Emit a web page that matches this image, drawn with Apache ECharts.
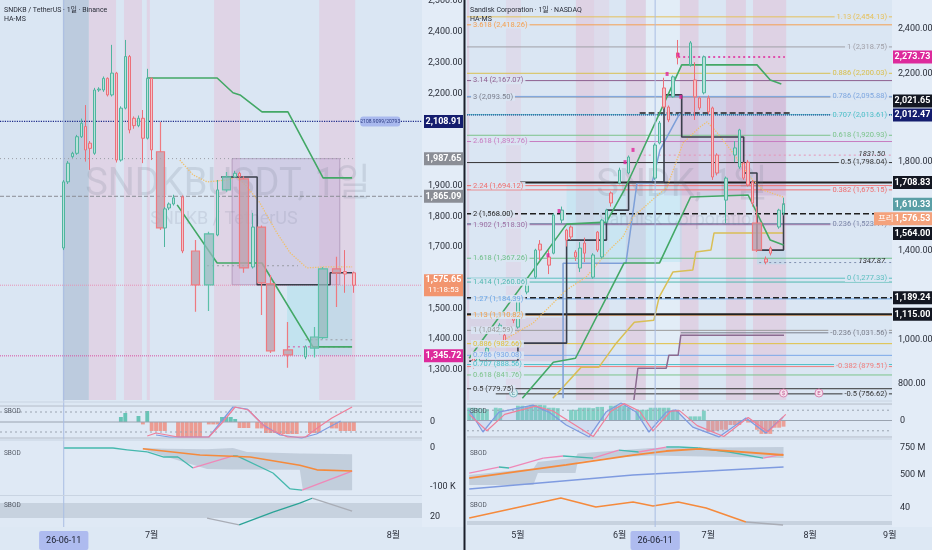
<!DOCTYPE html>
<html><head><meta charset="utf-8">
<script src="https://cdn.jsdelivr.net/npm/echarts@6.0.0/dist/echarts.min.js"></script>
<style>html,body{margin:0;padding:0;background:#dde8f4;overflow:hidden}#c{width:932px;height:550px}</style>
</head><body><div id="c"></div>
<script>
// ================= DATA =================
const N = 96;
const slotNames = Array.from({length: N}, (_, i) => String(i));

// ---- Left chart: SNDKB / TetherUS ----
const leftTitle = 'SNDKB / TetherUS · 1일 · Binance';
const leftTickSlots = [14, 34, 89];
const leftTickText = ['26-06-11', '7월', '8월'];
const leftCrossSlot = 14;
const leftCandleSlots = [14,15,16,17,18,19,20,21,22,23,24,25,26,27,28,29,30,31,32,33,34,37,38,39,41,49,53,54,57,69,78,80];
const leftCandleOHLC = [
 [1697,1912,1690,1918],[1912,1973,1905,1980],[1994,2005,1990,2010],[2005,2059,2000,2065],[2059,2103,2055,2118],
 [2092,2016,1978,2162],[2038,2021,1951,2045],[2005,2211,2000,2218],[2211,2214,2205,2220],[2211,2249,2205,2255],
 [2249,2195,2190,2252],[2195,2266,2190,2358],[2266,1983,1975,2270],[1983,2152,1978,2158],[2152,2320,2148,2374],
 [2320,2081,2070,2325],[2119,2095,2085,2125],[2095,2119,2090,2128],[2119,2054,1973,2146],[2054,2249,2050,2280],
 [2249,2016,1983,2252],
 [1762,1824,1700,1830],[1827,1840,1820,1845],[1840,1860,1835,1870],[1863,1687,1680,1868],[1739,1886,1735,1918],
 [1928,1940,1925,1948],[1940,1930,1920,1945],[1635,1765,1630,1811],[1342,1375,1335,1380],[1620,1612,1551,1690],
 [1616,1575.65,1551,1620]];
const leftWideSlots = [36,44,47,51,55,59,61,65,71,73,76];
const leftWideOHLC = [[2010,1762,1755,2107],[1687,1577,1489,1723],[1577,1743,1492,1750],[1886,1928,1880,1944],
 [1922,1632,1616,1930],[1765,1583,1479,1770],[1580,1362,1355,1609],[1365,1349,1307,1456],[1371,1407,1340,1440],
 [1405,1629,1400,1635],[1629,1616,1505,1668]];
const leftGreenUpper = [[32.9,2250],[48.9,2250],[52.5,2202],[54.1,2195],[59.1,2140],[65,2140],[73,1925],[79.6,1925]];
const leftGreenLower = [[39.8,1837],[48.9,1648],[59.1,1648],[70.7,1375],[79.6,1375]];
const leftOrange = [[40.4,1983],[43.4,1935],[46.6,1912],[51.1,1918],[53.4,1928],[55.7,1896],[58.6,1844],[62.5,1746],[65.5,1681],[69.3,1632],[73,1635],[79.6,1635]];
const leftStructure = [[49.8,1928],[58,1577],[74.6,1616],[79.6,1616]];
const leftZones = [[52.3,76.8,1577,1987.65],[64.8,79.6,1346,1577]];
const leftBands = [[13.8,19.7,0],[19.7,25.9,1],[27.7,31.8,1],[32.9,33.6,1],[48.2,54.1,1],[72.1,80.3,1]];
const leftTagValues = [2108.91, 1987.65, 1865.09, 1575.65, 1345.72];
const leftTagSub = ['', '', '', '11:18:53', ''];
const leftLevelValues = [2108.91, 1987.65, 1865.09, 1575.65, 1345.72, 1639, 1375, 1398];
const leftLevelFrom = [-0.5, -0.5, -0.5, -0.5, -0.5, 46.6, 65, 69];
const leftLevelTo = [95.5, 80, 95.5, 95.5, 95.5, 67.3, 79.6, 79.6];
const leftHistSlots = [27,28,31,32,33,34,35,36,37,40,41,42,43,44,45,47,48,49,50,51,52,53,54,55,56,58,59,60,61,62,63,64,65,66,67,70,71,72,75,76,77,78,79,80];
const leftHistVals = [25,45,30,-12,55,-45,-45,-45,-45,-75,-75,-75,-75,-75,-75,-12,-12,-12,25,25,25,15,-30,-30,-30,-32,-32,-55,-55,-55,-60,-60,-60,-60,-60,-55,-55,-55,-32,-32,-45,-45,-45,-45];
const leftOscPink = [[33,-70],[35,-55],[40,-75],[47,-75],[50,-5],[53,75],[56,60],[60,-30],[65,-75],[69,-75],[72,-25],[75,20],[79.6,75]];
const leftOscBlue = [[35,-65],[38,-75],[47,-75],[52.5,75],[55.7,65],[59.4,-15],[63.2,-65],[68.1,-80],[71.5,-60],[74,-30],[77,5]];
const leftFlow = [[14,0],[25.2,0],[28.4,-5],[33,-10],[36.6,-23],[40,-23],[43.4,-51],[52.5,-20],[53.4,-20],[61.6,-64],[65.5,-105],[68.2,-108],[79.6,-59]];
const leftFlowOrange = [[32,-2],[45,-18],[56.4,-23],[67.7,-44],[71.6,-56],[79.6,-59]];
const leftFlowBand = [[32,-3,0],[37.5,-23,-2],[46.6,-54,-3],[52.5,-55,0],[55.7,-55,-10],[67.7,-56,-14],[68.4,-108,-14],[79.6,-108,-16]];
const leftS3Line = [[46.6,18.4],[53.9,11.9],[61.6,24],[67.7,32.5],[70.5,37],[79.6,25]];
const leftS3Band = [[-0.5,95.5,18.4,32.5]];

// ---- Right chart: Sandisk Corporation ----
const rightTitle = 'Sandisk Corporation · 1일 · NASDAQ';
const rightTickSlots = [11, 34, 42, 54, 77, 95];
const rightTickText = ['5월', '6월', '26-06-11', '7월', '8월', '9월'];
const rightCrossSlot = 42;
const rightCandleSlots = [1,2,4,7,8,10,11,13,15,16,18,19,21,22,23,24,25,26,28,29,30,31,32,34,36,42,43,44,45,46,47,50,51,52,53,54,55,56,58,60,61,62,63,64,67,68,70,71];
const rightCandleOHLC = [
 [930,900,870,945],[900,930,890,940],[917,962,910,970],[1034,1066,1025,1075],[1021,989,980,1030],
 [1102,1088,1075,1110],[1057,1179,1050,1185],[1215,1255,1205,1262],[1282,1404,1275,1410],[1431,1404,1359,1449],
 [1373,1336,1296,1404],[1390,1562,1385,1570],[1539,1584,1525,1600],[1494,1449,1420,1500],[1508,1463,1450,1515],
 [1395,1373,1355,1404],[1323,1413,1305,1440],[1436,1390,1350,1460],[1282,1382,1275,1390],[1485,1404,1395,1490],
 [1373,1539,1365,1545],[1530,1584,1525,1590],[1661,1616,1600,1668],[1706,1764,1700,1775],[1751,1823,1745,1830],
 [1728,1877,1720,1885],[1886,1976,1880,1985],[2134,2048,2040,2180],[2048,1990,1980,2055],[2094,2184,2090,2190],
 [2292,2269,2240,2350],[2238,2337,2230,2345],[2170,2094,1990,2250],[2089,2044,2035,2095],[2112,2274,2105,2280],
 [2089,2026,2015,2100],[2044,1733,1720,2050],[1832,1751,1740,1840],[1629,1728,1526,1735],[1832,1864,1800,1895],
 [1778,1945,1770,1950],[1796,1728,1720,1800],[1800,1697,1690,1810],[1710,1616,1600,1720],[1364,1350,1340,1375],
 [1413,1390,1380,1420],[1508,1584,1500,1590],[1571,1610.33,1560,1640]];
const rightWideSlots = [65];
const rightWideOHLC = [[1526,1404,1395,1600]];
const rightFibLeftRatios = ['3.618','3.14','3','2.618','2.24','2','1.902','1.618','1.414','1.27','1.13','1','0.886','0.786','0.707','0.618','0.5'];
const rightFibLeftValues = [2418.26,2167.07,2093.50,1892.76,1694.12,1568.00,1518.30,1367.26,1260.06,1184.39,1110.82,1042.59,982.66,930.08,888.56,841.76,779.75];
const rightFibRightRatios = ['1.13','1','0.886','0.786','0.707','0.618','0.5','0.382','0.236','0','-0.236','-0.382','-0.5'];
const rightFibRightValues = [2454.13,2318.75,2200.03,2095.88,2013.61,1920.93,1798.04,1675.15,1523.11,1277.33,1031.56,879.51,756.62];
const rightFibRightFrom = [-0.5,-0.5,-0.5,-0.5,-0.5,-0.5,-0.5,-0.5,-0.5,-0.5,47.8,-0.5,6];
const rightLevelValues = [2273.73, 2021.65, 2012.47, 1831.50, 1708.83, 1347.87, 1189.24, 1115.00];
const rightLevelFrom = [47.2, 38.5, -0.5, 38.3, 11.5, 65.5, -0.5, -0.5];
const rightLevelTo = [71.3, 73, 95.5, 95.5, 95.5, 95.5, 95.5, 95.5];
const rightNoteValues = [1831.50, 1347.87];
const rightTagValues = [2273.73, 2021.65, 2012.47, 1708.83, 1610.33, 1576.53, 1564.00, 1189.24, 1115.00];
const rightTagPrefix = ['', '', '', '', '', '프리', '', '', ''];
const rightGreenA = [[0,917],[22,1521],[31,1530],[35,1674],[37,1760],[48,2238],[65,2238],[68,2170],[70.5,2152]];
const rightGreenB = [[12,737],[19,899],[24,917],[35,1346],[43,1346],[50,1643],[63,1652],[68,1449],[71,1427]];
const rightYellowStair = [[18.9,737],[25.3,877],[29.3,877],[33.2,985],[37.3,1079],[41.7,1088],[42.9,1192],[46,1305],[50.5,1314],[51.2,1395],[54.6,1404],[55.3,1481],[70.9,1481]];
const rightPurpleStair = [[37.2,729],[38.1,872],[44.5,872],[45.1,931],[47.2,931],[47.8,1021],[71.1,1021]];
const rightBlueStair = [[21.2,737],[21.2,1345],[35.4,1345],[37.9,1706],[41.3,1706],[43.1,1855],[47.6,2021]];
const rightStructure = [[0,904],[11,985],[22,1449],[31,1584],[36,1710],[44,2103],[48,1913],[62,1751],[65,1404],[71,1616]];
const rightOrange = [[3.8,953],[14.4,1075],[21.9,1224],[26.4,1282],[31.6,1404],[34.7,1463],[37,1553],[44.7,1688],[48.3,1886],[52.1,1958],[53.7,1981],[55.5,1945],[59.6,1841],[63.4,1733],[66.4,1674],[70.9,1643]];
const rightMarkers = [[17.8,1381],[20.3,1580],[35.2,1800],[37,1855],[44.7,2197],[47.2,2283],[47.8,2094]];
const rightZones = [[44,71.5,1650,2093],[22,48,1350,1700],[0,22,904,1100],[65,71.5,1340,1404]];
const rightBands = [[-0.5,0,1],[8.3,11.7,0],[24.1,28.2,1],[28.2,31.6,0],[35.4,39.9,1],[39.9,47.6,2],[47.6,51.8,1],[58,62.5,1],[64.1,71.6,1]];
const rightEventSlots = [10, 71, 79];
const rightEventText = ['E', '$', 'E'];
const rightHist = [62,62,60,58,55,0,62,60,0,0,0,72,72,70,76,76,76,74,62,62,60,0,0,52,52,62,62,62,60,66,66,0,72,72,72,72,62,0,52,52,52,62,62,62,62,62,48,48,0,0,20,20,20,48,-55,-55,-50,-45,-45,-22,-22,-22,0,-10,-10,-45,-65,-65,-65,-35,-35,-30];
const rightOscBlue = [[0,51],[3.1,-56],[6.7,41],[14.4,75],[18,41],[21.9,-22],[27.1,-80],[30.9,41],[34.3,85],[37.7,41],[40.6,-56],[44.5,41],[46.7,51],[50.5,-32],[56.4,-80],[62.5,12],[67,-61],[70.9,17]];
const rightOscPink = [[0,30],[4,-50],[8,30],[15,70],[19,45],[23,-10],[28,-78],[32,45],[35,82],[38.5,45],[41.5,-50],[45.5,45],[47.5,48],[51.5,-25],[57.5,-78],[63,15],[67.5,-55],[71.5,30]];
const rightS2Orange = [[0,472],[21.9,593],[37,685],[44.5,722],[52,741],[71,685]];
const rightS2Blue = [[0,370],[37,500],[71,574]];
const rightS2Flow = [[0,518],[6.7,574],[9,565],[16.7,657],[21.2,676],[28,657],[33.8,731],[38.3,713],[44.5,759],[47.4,759],[51.8,750],[58.7,713],[66.4,657],[70.9,694]];
const rightS2Band = [[0,407,500],[14.5,407,560],[15.5,518,620],[24,518,660],[24.5,620,700],[31,657,720],[41,680,750],[71,657,760]];
const rightS3Orange = [[0,30],[20.7,50],[28.6,41],[37,46],[41.5,42],[47.2,46],[53.5,40],[62.5,26]];
const rightS3Gray = [[62.5,26],[70.9,23]];
const rightS3Band = [[-0.5,95.5,23,27]];

// ================= STYLE =================
const FONT = 'Roboto, "Noto Sans CJK KR", sans-serif';
const BG = '#dae6f3';
const SUBBG = '#dfe9f5';
const leftBandColors = ['rgba(150,170,198,0.45)', 'rgba(228,190,214,0.45)'];
const rightBandColors = ['rgba(228,196,218,0.3)', 'rgba(226,186,210,0.45)', 'rgba(240,248,255,0.35)'];
const leftTagColors = ['#141d6e', '#8b8e96', '#8b8e96', '#f2956f', '#dd2a9c'];
const leftLevelColors = ['#1c2a8a', '#9a9ca4', '#8a8d95', '#e793b6', '#d94fa0', '#9a9ca4', '#d94fa0', '#9a9ca4'];
const leftLevelTypes = ['dotted', [1,3], 'dashed', 'dotted', 'dotted', [2,3], [2,3], [2,3]];
const rightTagColors = ['#dd2a9c', '#131722', '#141d6e', '#131722', '#5a9fa6', '#f4a27c', '#131722', '#131722', '#131722'];
const rightFibLeftColors = ['#f5a052','#8d5f8f','#7b7f8c','#c77dc1','#ef6e6e','#1f1f1f','#9c6fa3','#6fbf8a','#4fb8b0','#6aa7e8','#f0a050','#9a9a9a','#e0c040','#7aa8e8','#4ec0c8','#7cc48c','#333333'];
const rightFibRightColors = ['#e6c15a','#a0a0a8','#d8c050','#7fa8e0','#4ec0c8','#7cc48c','#333333','#ef6e6e','#7b86a8','#5bbfc0','#7b7f8c','#ef8080','#333333'];
const rightLevelColors = ['#e0269a', '#222222', '#1c2a8a', '#e793b6', '#222222', '#8090b0', '#222222', '#222222'];
const rightLevelTypes = [[2,3], 'dashed', 'dotted', [2,3], 'solid', [2,3], 'dashed', 'solid'];
const rightLevelWidths = [1.5, 1.5, 1, 1, 2, 1, 1.5, 2];

// ================= BUILD =================
const grids = [
 {left:0, top:0, width:422, height:400, bg:BG},
 {left:0, top:405, width:422, height:34, bg:SUBBG},
 {left:0, top:441, width:422, height:54, bg:SUBBG},
 {left:0, top:496, width:422, height:31, bg:SUBBG},
 {left:467, top:0, width:425, height:400, bg:BG},
 {left:467, top:403, width:425, height:35, bg:SUBBG},
 {left:467, top:440, width:425, height:55, bg:SUBBG},
 {left:467, top:496, width:425, height:31, bg:SUBBG}
];
function fmt2(v){ return v.toLocaleString('en-US', {minimumFractionDigits:2, maximumFractionDigits:2}); }
function ticksAvoiding(from, to, step, tags, pxPerUnit){
  const out = [];
  for (let v = from; v <= to; v += step) if (tags.every(t => Math.abs(t - v) * pxPerUnit >= 8)) out.push(v);
  return out;
}
const yRanges = [[1202,2504],[-85,85],[-120.5,18],[10,39.1],[729,2530],[-85,85],[315,824],[21,52]];
const yLabelVals = [
  ticksAvoiding(1300, 2500, 100, leftTagValues, 400/1302), [0], [0,-100], [20],
  ticksAvoiding(800, 2400, 200, rightTagValues, 400/1801), [0], [500,750], [40]];
const yLabelFmt = [fmt2, v=>'0', v=> v===0?'0':'-100 K', v=>String(v), fmt2, v=>'0', v=>v+' M', v=>String(v)];

const axisLabelBase = {color:'#2a2e39', fontSize:9, fontFamily:FONT};
const xAxes = [], yAxes = [];
for (let g = 0; g < 8; g++) {
  const isBottom = (g === 3 || g === 7);
  const tickSlots = g < 4 ? leftTickSlots : rightTickSlots;
  const tickText = g < 4 ? leftTickText : rightTickText;
  const cross = g < 4 ? leftCrossSlot : rightCrossSlot;
  xAxes.push({type:'category', gridIndex:g, data:slotNames, boundaryGap:true, show:isBottom,
    axisLine:{show:false}, axisTick:{show:false}, splitLine:{show:false},
    axisLabel: Object.assign({}, axisLabelBase, {interval:0, margin:4, hideOverlap:false,
      formatter:(val, idx) => { const k = tickSlots.indexOf(idx); if (k < 0) return ''; return idx === cross ? '{hl|' + tickText[k] + '}' : tickText[k]; },
      rich:{hl:{backgroundColor:'#aebbef', padding:[5,7], color:'#1a1f2e', fontSize:9, fontFamily:FONT, borderRadius:2}}})});
}
for (let g = 0; g < 8; g++) xAxes.push({type:'value', gridIndex:g, min:-0.5, max:95.5, show:false});
for (let g = 0; g < 8; g++) {
  yAxes.push({type:'value', gridIndex:g, position:'right', min:yRanges[g][0], max:yRanges[g][1],
    axisLine:{show:false}, axisTick:{show:false}, splitLine:{show:false},
    axisLabel: Object.assign({}, axisLabelBase, {customValues:yLabelVals[g], formatter:yLabelFmt[g], margin:(g===0||g===4)?6:8})});
}

const series = [];
function padSlots(slotsArr, vals, empty){ const a = new Array(N).fill(empty); slotsArr.forEach((s, i) => a[s] = vals[i]); return a; }
function addBands(g, bands, colors){
  series.push({type:'custom', xAxisIndex:8+g, yAxisIndex:g, silent:true, animation:false, z:1, data:bands, encode:{x:[0,1], y:2},
    renderItem:(p, api) => { const cs = p.coordSys; const x1 = api.coord([api.value(0), yRanges[g][0]])[0]; const x2 = api.coord([api.value(1), yRanges[g][0]])[0];
      return {type:'rect', shape:{x:x1, y:cs.y, width:x2-x1, height:cs.height}, style:{fill:colors[api.value(2)]}}; }});
}
function addZones(g, zones, fills, strokes){
  series.push({type:'custom', xAxisIndex:8+g, yAxisIndex:g, silent:true, animation:false, z:1, data:zones.map((z,i)=>z.concat([i])), encode:{x:[0,1], y:[2,3]},
    renderItem:(p, api) => { const a = api.coord([api.value(0), api.value(3)]); const b = api.coord([api.value(1), api.value(2)]); const ci = api.value(4);
      return {type:'rect', shape:{x:a[0], y:a[1], width:b[0]-a[0], height:b[1]-a[1]}, style:{fill:fills[ci], stroke:strokes[ci] || null, lineWidth:1}}; }});
}
function addPoly(g, pts, fill){
  series.push({type:'custom', xAxisIndex:8+g, yAxisIndex:g, silent:true, animation:false, z:1, data:pts, encode:{x:0, y:[1,2]},
    renderItem:(p, api) => { if (p.dataIndex !== 0) return null;
      const top = pts.map(q => api.coord([q[0], q[2]])); const bot = pts.map(q => api.coord([q[0], q[1]])).reverse();
      return {type:'polygon', shape:{points: top.concat(bot)}, style:{fill}}; }});
}
function addLine(g, pts, color, width, type, extra){
  series.push(Object.assign({type:'line', xAxisIndex:8+g, yAxisIndex:g, data:pts, symbol:'none', silent:true, animation:false, z:3,
    lineStyle:{color, width, type}}, extra || {}));
}
function addRiseFall(g, pts, upColor, downColor, width){
  for (let i = 0; i < pts.length - 1; i++) addLine(g, [pts[i], pts[i+1]], pts[i+1][1] > pts[i][1] ? upColor : downColor, width, 'solid');
}
function addLevel(g, v, from, to, color, width, type){ addLine(g, [[from, v], [to, v]], color, width, type, {z:2}); }
function addCandles(g, slotsArr, ohlc, bw, style){
  series.push({type:'candlestick', xAxisIndex:g, yAxisIndex:g, data:padSlots(slotsArr, ohlc, ['-','-','-','-']), barWidth:bw, silent:true, animation:false, z:5, itemStyle:style});
}
function addHist(g, arr, up, down){
  series.push({type:'bar', xAxisIndex:g, yAxisIndex:g, silent:true, animation:false, z:2, barCategoryGap:'12%',
    data: arr.map(v => v === '-' ? '-' : {value:v, itemStyle:{color: v >= 0 ? up : down}})});
}
const thinStyle = {color:'#b9e2d9', color0:'#f2c3c8', borderColor:'#4fb59f', borderColor0:'#ec6f79', borderWidth:1};
const wideStyle = {color:'rgba(150,185,190,0.75)', color0:'rgba(190,160,172,0.8)', borderColor:'#5cc0a8', borderColor0:'#ee7a80', borderWidth:1.2};

// ---- left main ----
addBands(0, leftBands, leftBandColors);
addZones(0, leftZones, ['rgba(190,160,205,0.35)', 'rgba(165,225,235,0.45)'], ['rgba(150,120,160,0.5)', null]);
leftLevelValues.forEach((v, i) => addLevel(0, v, leftLevelFrom[i], leftLevelTo[i], leftLevelColors[i], i === 0 ? 1.2 : 1, leftLevelTypes[i]));
addLine(0, leftOrange, '#f0c06a', 1.3, 'dotted');
addLine(0, leftStructure, '#3a3f4b', 1.5, 'solid', {step:'end'});
addLine(0, leftGreenUpper, '#43a866', 1.6, 'solid');
addLine(0, leftGreenLower, '#43a866', 1.6, 'solid');
addCandles(0, leftWideSlots, leftWideOHLC, 9, wideStyle);
addCandles(0, leftCandleSlots, leftCandleOHLC, 3, thinStyle);
// ---- left sub1 ----
addLevel(1, 80, -0.5, 95.5, '#b4bcc8', 1, 'solid');
addLevel(1, -80, -0.5, 95.5, '#b4bcc8', 1, 'solid');
addLevel(1, 50, -0.5, 95.5, '#9aa3b0', 1, [2,3]);
addLevel(1, -50, -0.5, 95.5, '#9aa3b0', 1, [2,3]);
addLevel(1, 0, -0.5, 95.5, '#9aa3b0', 1, 'solid');
addHist(1, padSlots(leftHistSlots, leftHistVals, '-'), 'rgba(72,186,166,0.8)', 'rgba(240,128,112,0.75)');
addLine(1, leftOscBlue, '#7f9be0', 1.2, 'solid');
addLine(1, leftOscPink, '#ef7f9a', 1.2, 'solid');
// ---- left sub2 ----
addPoly(2, leftFlowBand, 'rgba(160,172,190,0.45)');
addRiseFall(2, leftFlow, '#ef88b8', '#45b8ad', 1.3);
addLine(2, leftFlowOrange, '#f58a3c', 1.6, 'solid');
// ---- left sub3 ----
addZones(3, leftS3Band, ['rgba(170,182,198,0.45)'], [null]);
addRiseFall(3, leftS3Line, '#2aa396', '#a9adb6', 1.3);

// ---- right main ----
addBands(4, rightBands, rightBandColors);
addZones(4, rightZones, ['rgba(185,150,200,0.28)', 'rgba(170,225,240,0.35)', 'rgba(210,170,200,0.3)', 'rgba(170,225,240,0.45)'], [null, null, null, null]);
rightFibLeftValues.forEach((v, i) => addLevel(4, v, -0.5, 95.5, rightFibLeftColors[i], i === 5 ? 1.5 : 1, i === 5 ? 'dashed' : 'solid'));
rightFibRightValues.forEach((v, i) => addLevel(4, v, rightFibRightFrom[i], 95.5, rightFibRightColors[i], 1, 'solid'));
rightLevelValues.forEach((v, i) => addLevel(4, v, rightLevelFrom[i], rightLevelTo[i], rightLevelColors[i], rightLevelWidths[i], rightLevelTypes[i]));
addLine(4, rightYellowStair, '#d9bf55', 1.5, 'solid');
addLine(4, rightPurpleStair, '#8b6b90', 1.5, 'solid');
addLine(4, rightBlueStair, '#7d9fd8', 1.5, 'solid');
addLine(4, rightOrange, '#f0c06a', 1.3, 'dotted');
addLine(4, rightStructure, '#3a3f4b', 1.6, 'solid', {step:'end'});
addLine(4, rightGreenA, '#43a866', 1.6, 'solid');
addLine(4, rightGreenB, '#43a866', 1.6, 'solid');
addCandles(4, rightWideSlots, rightWideOHLC, 9, wideStyle);
addCandles(4, rightCandleSlots, rightCandleOHLC, 3, thinStyle);
series.push({type:'scatter', xAxisIndex:12, yAxisIndex:4, data:rightMarkers, symbol:'rect', symbolSize:[3,4], silent:true, animation:false, z:6, itemStyle:{color:'#e0269a'}});
// ---- right sub1 ----
addLevel(5, 80, -0.5, 95.5, '#b4bcc8', 1, 'solid');
addLevel(5, -80, -0.5, 95.5, '#b4bcc8', 1, 'solid');
addLevel(5, 50, -0.5, 95.5, '#9aa3b0', 1, [2,3]);
addLevel(5, -50, -0.5, 95.5, '#9aa3b0', 1, [2,3]);
addLevel(5, 0, -0.5, 95.5, '#9aa3b0', 1, 'solid');
addHist(5, rightHist.concat(new Array(N - rightHist.length).fill('-')), 'rgba(80,194,170,0.65)', 'rgba(240,128,112,0.7)');
addLine(5, rightOscBlue, '#7f9be0', 1.3, 'solid', {areaStyle:{color:'rgba(127,155,224,0.22)', origin:0}});
addLine(5, rightOscPink, '#ef7f9a', 1.2, 'solid');
// ---- right sub2 ----
addPoly(6, rightS2Band, 'rgba(160,172,190,0.45)');
addLine(6, rightS2Blue, '#7f9be0', 1.6, 'solid');
addRiseFall(6, rightS2Flow, '#ef88b8', '#45b8ad', 1.3);
addLine(6, rightS2Orange, '#f58a3c', 1.8, 'solid');
// ---- right sub3 ----
addZones(7, rightS3Band, ['rgba(170,182,198,0.45)'], [null]);
addLine(7, rightS3Orange, '#f58a3c', 1.6, 'solid');
addLine(7, rightS3Gray, '#a9adb6', 1.6, 'solid');

const chart = echarts.init(document.getElementById('c'), null, {renderer:'canvas', width:932, height:550});
chart.setOption({
  backgroundColor:'#dde8f4',
  animation:false,
  grid: grids.map(g => ({left:g.left, top:g.top, width:g.width, height:g.height, show:true, backgroundColor:g.bg, borderWidth:0, containLabel:false, outerBoundsMode:'none'})),
  xAxis: xAxes, yAxis: yAxes, series: series
});

// ================= OVERLAY TEXT (tags, labels) =================
const py = (yi, v) => chart.convertToPixel({yAxisIndex: yi}, v);
const px = (xi, v) => chart.convertToPixel({xAxisIndex: xi}, v);
function layoutTags(vals, fixedIdx, heights, yIdx){
  const items = vals.map((v, i) => ({i, y0: py(yIdx, v), h: heights[i]}));
  const placed = [];
  items.filter(t => fixedIdx.includes(t.i)).forEach(t => { t.y = t.y0; placed.push(t); });
  items.filter(t => !fixedIdx.includes(t.i)).sort((a, b) => a.y0 - b.y0).forEach(t => {
    const ok = yy => placed.every(p => Math.abs(p.y - yy) >= (p.h + t.h) / 2 + 1);
    let y = t.y0;
    if (!ok(y)) { for (let d = 1; d < 300; d++) { if (ok(y - d)) { y = y - d; break; } if (ok(y + d)) { y = y + d; break; } } }
    t.y = y; placed.push(t);
  });
  return items.sort((a, b) => a.i - b.i);
}
const G = [];
function txt(x, y, text, o, z){
  G.push({type:'text', x, y, z: z || 100, style:Object.assign({text, fill:'#2a2e39', fontSize:7, fontFamily:FONT, align:'left', verticalAlign:'middle'}, o || {})});
}
// price axis columns & divider
G.push({type:'rect', shape:{x:422, y:0, width:42, height:527}, style:{fill:'#e3ecf7'}, z:-10});
G.push({type:'rect', shape:{x:892, y:0, width:40, height:527}, style:{fill:'#e3ecf7'}, z:-10});
G.push({type:'rect', shape:{x:463.5, y:0, width:2, height:550}, style:{fill:'#1b1f2a'}, z:120});
[[0,402,422],[0,440,422],[0,495.5,422],[467,401,425],[467,439,425],[467,495.5,425]].forEach(s => G.push({type:'line', shape:{x1:s[0], y1:s[1], x2:s[0]+s[2], y2:s[1]}, style:{stroke:'#c9d4e2', lineWidth:1}, z:90}));
// crosshair vertical lines
[[8, leftCrossSlot], [12, rightCrossSlot]].forEach(c => { const x = px(c[0], c[1]); G.push({type:'line', shape:{x1:x, y1:0, x2:x, y2:527}, style:{stroke:'#a9bde3', lineWidth:1}, z:4}); });
// watermarks
txt(228, 185, 'SNDKBUSDT, 1일', {fill:'rgba(110,120,140,0.18)', fontSize:38, align:'center'}, 3);
txt(224, 219, 'SNDKB / TetherUS', {fill:'rgba(110,120,140,0.16)', fontSize:18, align:'center'}, 3);
txt(682, 186, 'SNDK, 1일', {fill:'rgba(110,120,140,0.18)', fontSize:38, align:'center'}, 3);
txt(680, 220, 'Sandisk Corporation', {fill:'rgba(110,120,140,0.16)', fontSize:18, align:'center'}, 3);
// titles
txt(4, 10, leftTitle); txt(4, 19, 'HA-MS');
txt(470, 10, rightTitle); txt(470, 19, 'HA-MS');
[[4,411],[4,453],[4,505],[470,411],[470,453],[470,505]].forEach(p => txt(p[0], p[1], 'SBOD', {fontSize:6.5, fill:'#555b66'}));
// right fib labels
rightFibLeftValues.forEach((v, i) => txt(471, py(4, v), rightFibLeftRatios[i] + ' (' + fmt2(v) + ')', {fill:rightFibLeftColors[i], fontSize:7.5, backgroundColor:'rgba(218,230,243,0.9)', padding:[0,2]}));
rightFibRightValues.forEach((v, i) => txt(889, py(4, v), rightFibRightRatios[i] + ' (' + fmt2(v) + ')', {fill:rightFibRightColors[i], fontSize:7.5, align:'right', backgroundColor:'rgba(218,230,243,0.9)', padding:[0,2]}));
rightNoteValues.forEach(v => txt(885, py(4, v) - 1, v.toFixed(2), {fill:'#333', fontSize:7.5, align:'right', fontStyle:'italic'}));
// left pill label on crosshair line
{ const x = px(8, 86), y = py(0, leftTagValues[0]); G.push({type:'rect', shape:{x:x-20, y:y-5, width:40, height:10, r:3}, style:{fill:'#a9b9ee'}, z:95}); txt(x, y, '2108.9099/20793', {fontSize:5, align:'center', fill:'#2b3a80'}, 96); }
// earnings / dividend markers
rightEventSlots.forEach((s, i) => { const x = px(12, s), y = 393; const pink = i > 0;
  G.push({type:'circle', shape:{cx:x, cy:y, r:4}, style:{fill: pink ? '#f6e3ee' : '#d8eef2', stroke: pink ? '#d98ab5' : '#7fbcc4', lineWidth:1}, z:96});
  txt(x, y, rightEventText[i], {fontSize:6, align:'center', fill: pink ? '#c2558f' : '#4d8f98'}, 97); });
// price tags
function drawTags(vals, colors, yIdx, x0, w, fixedIdx, heights, subs, prefixes){
  const items = layoutTags(vals, fixedIdx, heights, yIdx);
  items.forEach(t => {
    const i = t.i; const h = heights[i];
    const pre = prefixes && prefixes[i];
    const xs = pre ? x0 - 19 : x0;
    G.push({type:'rect', shape:{x:xs, y:t.y - h/2, width:w + (x0 - xs), height:h}, style:{fill:colors[i]}, z:110});
    if (pre) txt(xs + 4, t.y, pre, {fill:'#ffffff', fontSize:8.5}, 115);
    const sub = subs && subs[i];
    txt(x0 + w/2, sub ? t.y - 5 : t.y, fmt2(vals[i]), {fill:'#ffffff', fontSize:9, fontWeight:'bold', align:'center'}, 115);
    if (sub) txt(x0 + w/2, t.y + 5, sub, {fill:'#ffffff', fontSize:8, align:'center'}, 115);
  });
}
drawTags(leftTagValues, leftTagColors, 0, 424, 39, [0, 3], leftTagValues.map((v, i) => leftTagSub[i] ? 22 : 13), leftTagSub, null);
drawTags(rightTagValues, rightTagColors, 4, 893, 39, [2, 4], rightTagValues.map(() => 13), null, rightTagPrefix);
chart.setOption({graphic: {elements: G}});
</script></body></html>
